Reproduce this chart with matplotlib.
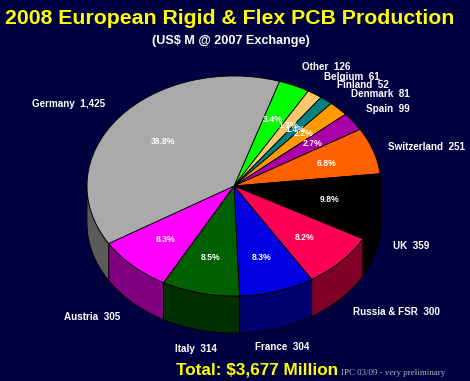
import numpy as np
import matplotlib
matplotlib.use("Agg")
import matplotlib.pyplot as plt

# clockwise from the Germany / Other boundary
countries = ["Other", "Belgium", "Finland", "Denmark", "Spain", "Switzerland",
             "UK", "Russia & FSR", "France", "Italy", "Austria", "Germany"]
values = [126, 61, 52, 81, 99, 251, 359, 300, 304, 314, 305, 1425]
value_labels = ["126", "61", "52", "81", "99", "251", "359", "300", "304", "314", "305", "1,425"]
pct_labels = ["3.4%", "1.7%", "1.4%", "2.2%", "2.7%", "6.8%", "9.8%", "8.2%", "8.3%", "8.5%", "8.3%", "38.8%"]

top_colors = ["#00ff00", "#ffc66e", "#008080", "#ff9900", "#a900a9", "#ff6000",
              "#000000", "#ff0055", "#0000e0", "#006000", "#ff00ff", "#aaaaaa"]
wall_colors = ["#008000", "#806030", "#004040", "#804c00", "#550055", "#803000",
               "#000000", "#800028", "#000070", "#003000", "#800080", "#5a5a5a"]

# pixel positions of the text, centres
name_pos = [(326, 67), (352, 77), (363, 85), (380, 94), (388, 109), (426, 147),
            (411, 246), (396, 312), (282, 347), (196, 349), (92, 317), (69, 104)]
pct_pos = [(273, 119), (288, 125), (295, 129), (304, 134), (313, 144), (327, 163),
           (330, 200), (305, 237), (262, 257), (211, 258), (166, 239), (163, 141)]

W, H = 470, 381
cx, cy, rx, ry = 234, 186, 147, 110
depth = 37 / ry
start = 72
bg = "#000040"

fig = plt.figure(figsize=(W / 100, H / 100), dpi=100, facecolor=bg)
ax = fig.add_axes([0, 0, 1, 1])

ax.pie(values, colors=top_colors, startangle=start, counterclock=False, radius=1,
       wedgeprops={"edgecolor": "black", "linewidth": 0.6, "zorder": 3})
ax.set_aspect("auto")
ax.set_xlim(-cx / rx, (W - cx) / rx)
ax.set_ylim(-(H - cy) / ry, cy / ry)
ax.axis("off")

# side wall of the front slices
edges = start - np.cumsum([0] + values) / sum(values) * 360
for i in range(len(values)):
    hi, lo = min(edges[i], 0), max(edges[i + 1], -180)
    if hi <= lo:
        continue
    t = np.radians(np.linspace(lo, hi, 40))
    xs = np.r_[np.cos(t), np.cos(t[::-1])]
    ys = np.r_[np.sin(t), np.sin(t[::-1]) - depth]
    ax.fill(xs, ys, facecolor=wall_colors[i], edgecolor="black", lw=0.6, zorder=2)


def put(x, y, s, **kw):
    fig.text(x / W, 1 - y / H, s, ha="center", va="center", **kw)


sans = "Liberation Sans"
put(230, 19, "2008 European Rigid & Flex PCB Production", color="#ffff00",
    fontsize=15.3, fontweight="bold", family=sans)
put(231, 41, "(US$ M @ 2007 Exchange)", color="white", fontsize=9.1,
    fontweight="bold", family=sans)

for c, v, p in zip(countries, value_labels, name_pos):
    put(p[0], p[1], f"{c}  {v}", color="white", fontsize=7.1, fontweight="bold", family=sans, zorder=6)
for s, p in zip(pct_labels, pct_pos):
    put(p[0], p[1], s, color="white", fontsize=6.2, fontweight="bold", family=sans, zorder=6)

put(257, 370, "Total: $3,677 Million", color="#ffff00", fontsize=12.3,
    fontweight="bold", family=sans)
put(393, 373, "IPC 03/09 - very preliminary", color="#b0b0c0", fontsize=6.4,
    family="Liberation Serif")

fig.savefig("out.png", dpi=100, facecolor=bg)
